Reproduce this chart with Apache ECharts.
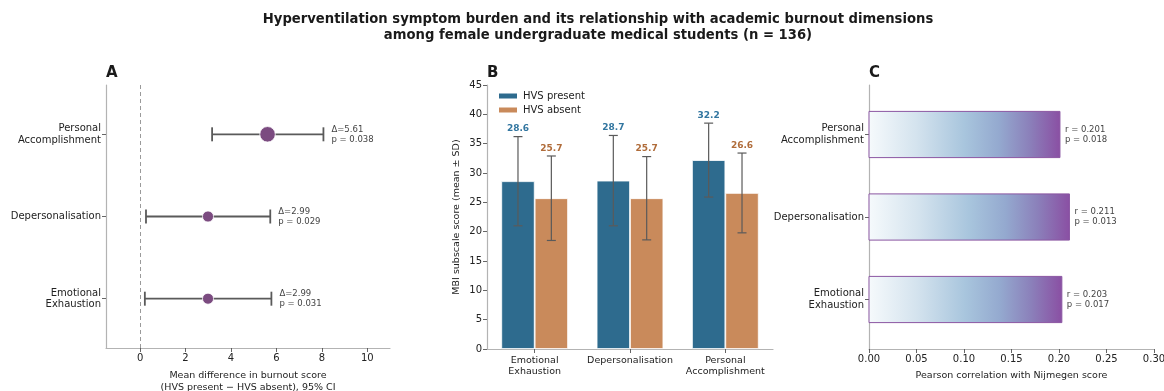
<!DOCTYPE html>
<html>
<head>
<meta charset="utf-8">
<script src="https://cdn.jsdelivr.net/npm/echarts@6/dist/echarts.min.js"></script>
<style>
  html, body { margin: 0; padding: 0; background: #ffffff; }
  #chart { width: 1164px; height: 391px; }
</style>
</head>
<body>
<div id="chart"></div>
<script>
// Burnout dimensions, bottom-to-top order for panels A and C, left-to-right for B
const dimensions = ['Emotional\nExhaustion', 'Depersonalisation', 'Personal\nAccomplishment'];

// Panel A: mean difference (HVS present - HVS absent) with 95% CI
const meanDiff = [2.99, 2.99, 5.61];
const ciLower = [0.21, 0.26, 3.17];
const ciUpper = [5.78, 5.73, 8.07];
const diffP = ['0.031', '0.029', '0.038'];
const diffTicks = [0, 2, 4, 6, 8, 10];

// Panel B: MBI subscale score, mean and SD per group
const groupNames = ['HVS present', 'HVS absent'];
const hvsPresentMean = [28.6, 28.7, 32.2];
const hvsPresentSD = [7.6, 7.7, 6.3];
const hvsAbsentMean = [25.7, 25.7, 26.6];
const hvsAbsentSD = [7.2, 7.1, 6.8];

// Panel C: Pearson correlation with Nijmegen score
const pearsonR = [0.203, 0.211, 0.201];
const pearsonP = ['0.017', '0.013', '0.018'];

const FONT = 'DejaVu Sans';
const SPINE = { show: true, onZero: false, lineStyle: { color: '#b3b3b3', width: 1.2 } };
const TICK = { show: true, length: 4, lineStyle: { color: '#555555', width: 0.9 } };
const TICKLABEL = { color: '#222222', fontSize: 10, fontFamily: FONT };
const NAMESTYLE = { color: '#222222', fontSize: 9.5, fontFamily: FONT, lineHeight: 12 };

const PRESENT = '#2e6b8e';
const ABSENT = '#c98a5b';
const PRESENT_TXT = '#3276a0';
const ABSENT_TXT = '#b06c3a';
const POINT = '#7b4b80';
const ERR = '#5a5a5a';

const chart = echarts.init(document.getElementById('chart'), null, { renderer: 'canvas' });

const catIdx = dimensions.map((d, i) => i);

const option = {
  backgroundColor: '#ffffff',
  animation: false,
  textStyle: { fontFamily: FONT },
  graphic: [
    {
      type: 'text', x: 598, y: 12,
      style: {
        text: 'Hyperventilation symptom burden and its relationship with academic burnout dimensions\namong female undergraduate medical students (n = 136)',
        font: 'bold 13.2px "DejaVu Sans"', fill: '#1a1a1a', align: 'center', verticalAlign: 'top', lineHeight: 16
      }
    },
    { type: 'text', x: 106, y: 66, style: { text: 'A', font: 'bold 15px "DejaVu Sans"', fill: '#1a1a1a', verticalAlign: 'top' } },
    { type: 'text', x: 487, y: 66, style: { text: 'B', font: 'bold 15px "DejaVu Sans"', fill: '#1a1a1a', verticalAlign: 'top' } },
    { type: 'text', x: 869, y: 66, style: { text: 'C', font: 'bold 15px "DejaVu Sans"', fill: '#1a1a1a', verticalAlign: 'top' } }
  ],
  legend: {
    data: groupNames,
    orient: 'vertical',
    left: 497, top: 91, padding: 0,
    itemWidth: 20, itemHeight: 7, itemGap: 4,
    icon: 'rect',
    textStyle: { color: '#222222', fontSize: 10, fontFamily: FONT }
  },
  grid: [
    { left: 106, top: 85, width: 284, height: 263, outerBoundsMode: 'none', containLabel: false },
    { left: 487, top: 85, width: 286, height: 264, outerBoundsMode: 'none', containLabel: false },
    { left: 869, top: 85, width: 285, height: 264, outerBoundsMode: 'none', containLabel: false }
  ],
  xAxis: [
    {
      gridIndex: 0, type: 'value', min: -1.5, max: 11,
      axisLine: SPINE, splitLine: { show: false },
      axisTick: Object.assign({ customValues: diffTicks }, TICK),
      axisLabel: Object.assign({ customValues: diffTicks, margin: 5 }, TICKLABEL),
      name: 'Mean difference in burnout score\n(HVS present \u2212 HVS absent), 95% CI',
      nameLocation: 'middle', nameGap: 22, nameTextStyle: NAMESTYLE
    },
    {
      gridIndex: 1, type: 'category', data: dimensions,
      axisLine: SPINE,
      axisTick: Object.assign({ alignWithLabel: true }, TICK),
      axisLabel: Object.assign({}, TICKLABEL, { interval: 0, margin: 6, lineHeight: 11, fontSize: 9.5 })
    },
    {
      gridIndex: 2, type: 'value', min: 0, max: 0.3, interval: 0.05,
      axisLine: SPINE, splitLine: { show: false }, axisTick: TICK,
      axisLabel: Object.assign({ formatter: v => v.toFixed(2), margin: 5 }, TICKLABEL),
      name: 'Pearson correlation with Nijmegen score',
      nameLocation: 'middle', nameGap: 21, nameTextStyle: NAMESTYLE
    }
  ],
  yAxis: [
    {
      gridIndex: 0, type: 'value', min: -0.6, max: 2.6,
      axisLine: SPINE, splitLine: { show: false },
      axisTick: Object.assign({ customValues: catIdx }, TICK),
      axisLabel: Object.assign({}, TICKLABEL, { customValues: catIdx, formatter: v => dimensions[Math.round(v)], lineHeight: 11.5, margin: 5 })
    },
    {
      gridIndex: 1, type: 'value', min: 0, max: 45, interval: 5,
      axisLine: SPINE, splitLine: { show: false }, axisTick: TICK,
      axisLabel: Object.assign({ margin: 5 }, TICKLABEL),
      name: 'MBI subscale score (mean \u00b1 SD)',
      nameLocation: 'middle', nameGap: 24, nameTextStyle: NAMESTYLE
    },
    {
      gridIndex: 2, type: 'value', min: -0.6, max: 2.6,
      axisLine: SPINE, splitLine: { show: false },
      axisTick: Object.assign({ customValues: catIdx }, TICK),
      axisLabel: Object.assign({}, TICKLABEL, { customValues: catIdx, formatter: v => dimensions[Math.round(v)], lineHeight: 11.5, margin: 5 })
    }
  ],
  series: [
    // Panel A: confidence intervals with caps and effect annotations
    {
      type: 'custom', xAxisIndex: 0, yAxisIndex: 0,
      data: catIdx.map(i => [ciLower[i], ciUpper[i], i]),
      encode: { x: [0, 1], y: 2 },
      renderItem: function (params, api) {
        const i = params.dataIndex;
        const lo = api.coord([api.value(0), api.value(2)]);
        const hi = api.coord([api.value(1), api.value(2)]);
        const cap = 7;
        const st = { stroke: ERR, lineWidth: 1.8 };
        return {
          type: 'group', children: [
            { type: 'line', shape: { x1: lo[0], y1: lo[1], x2: hi[0], y2: hi[1] }, style: st },
            { type: 'line', shape: { x1: lo[0], y1: lo[1] - cap, x2: lo[0], y2: lo[1] + cap }, style: st },
            { type: 'line', shape: { x1: hi[0], y1: hi[1] - cap, x2: hi[0], y2: hi[1] + cap }, style: st },
            {
              type: 'text', x: hi[0] + 8, y: hi[1],
              style: {
                text: '\u0394=' + meanDiff[i].toFixed(2) + '\np = ' + diffP[i],
                font: '8.5px "DejaVu Sans"', fill: '#444444',
                align: 'left', verticalAlign: 'middle', lineHeight: 10
              }
            }
          ]
        };
      },
      z: 2
    },
    // Panel A: point estimates, sized by effect
    {
      type: 'scatter', xAxisIndex: 0, yAxisIndex: 0,
      data: meanDiff.map((v, i) => [v, i]),
      symbolSize: val => 6 + val[0] * 1.7,
      itemStyle: { color: POINT, borderColor: '#ffffff', borderWidth: 0.8, opacity: 1 },
      markLine: {
        silent: true, symbol: 'none', label: { show: false },
        lineStyle: { color: '#9a9a9a', type: [4, 3], width: 1 },
        data: [{ xAxis: 0 }]
      },
      z: 3
    },
    // Panel B: group means
    {
      name: groupNames[0], type: 'bar', xAxisIndex: 1, yAxisIndex: 1,
      data: hvsPresentMean, barGap: '0%', barCategoryGap: '30%',
      itemStyle: { color: PRESENT, borderColor: '#ffffff', borderWidth: 0.8 }
    },
    {
      name: groupNames[1], type: 'bar', xAxisIndex: 1, yAxisIndex: 1,
      data: hvsAbsentMean, barGap: '0%', barCategoryGap: '30%',
      itemStyle: { color: ABSENT, borderColor: '#ffffff', borderWidth: 0.8 }
    },
    // Panel B: SD error bars and mean labels
    {
      type: 'custom', xAxisIndex: 1, yAxisIndex: 1,
      data: [].concat(
        catIdx.map(i => [i, hvsPresentMean[i], hvsPresentSD[i], 0]),
        catIdx.map(i => [i, hvsAbsentMean[i], hvsAbsentSD[i], 1])
      ),
      encode: { x: 0, y: 1 },
      renderItem: function (params, api) {
        const c = api.value(0), m = api.value(1), sd = api.value(2), g = api.value(3);
        const band = api.size([1, 0])[0];
        const off = (g === 0 ? -1 : 1) * band * 0.175;
        const top = api.coord([c, m + sd]);
        const bot = api.coord([c, m - sd]);
        const x = top[0] + off;
        const cap = 4.5;
        const st = { stroke: ERR, lineWidth: 1.2 };
        return {
          type: 'group', children: [
            { type: 'line', shape: { x1: x, y1: top[1], x2: x, y2: bot[1] }, style: st },
            { type: 'line', shape: { x1: x - cap, y1: top[1], x2: x + cap, y2: top[1] }, style: st },
            { type: 'line', shape: { x1: x - cap, y1: bot[1], x2: x + cap, y2: bot[1] }, style: st },
            {
              type: 'text', x: x, y: top[1] - 3,
              style: {
                text: m.toFixed(1), font: 'bold 9px "DejaVu Sans"',
                fill: g === 0 ? PRESENT_TXT : ABSENT_TXT,
                align: 'center', verticalAlign: 'bottom'
              }
            }
          ]
        };
      },
      z: 3
    },
    // Panel C: gradient correlation bars with r/p labels
    {
      type: 'custom', xAxisIndex: 2, yAxisIndex: 2,
      data: catIdx.map(i => [pearsonR[i], i]),
      encode: { x: 0, y: 1 },
      renderItem: function (params, api) {
        const i = params.dataIndex;
        const r = api.value(0), c = api.value(1);
        const p0 = api.coord([0, c + 0.28]);
        const p1 = api.coord([r, c - 0.28]);
        const mid = api.coord([r, c]);
        return {
          type: 'group', children: [
            {
              type: 'rect',
              shape: { x: p0[0], y: p0[1], width: p1[0] - p0[0], height: p1[1] - p0[1] },
              style: {
                fill: new echarts.graphic.LinearGradient(0, 0, 1, 0, [
                  { offset: 0, color: '#f6fafc' },
                  { offset: 0.25, color: '#d4e3ee' },
                  { offset: 0.5, color: '#a8c5dd' },
                  { offset: 0.68, color: '#94a9cf' },
                  { offset: 0.84, color: '#8b80ba' },
                  { offset: 1, color: '#8a4fa3' }
                ]),
                stroke: '#8a56a2', lineWidth: 1
              }
            },
            {
              type: 'text', x: mid[0] + 5, y: mid[1],
              style: {
                text: 'r = ' + r.toFixed(3) + '\np = ' + pearsonP[i],
                font: '8.5px "DejaVu Sans"', fill: '#444444',
                align: 'left', verticalAlign: 'middle', lineHeight: 10
              }
            }
          ]
        };
      }
    }
  ]
};

chart.setOption(option);
</script>
</body>
</html>
